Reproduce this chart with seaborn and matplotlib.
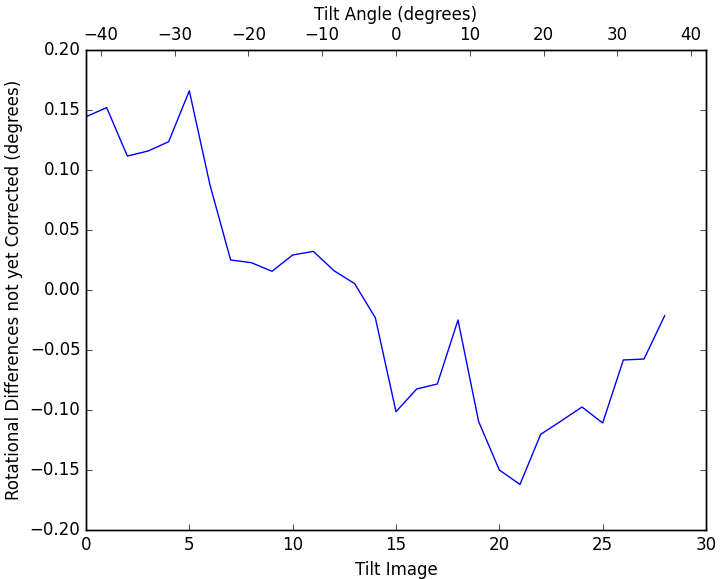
import numpy as np
import pandas as pd
import matplotlib
matplotlib.use("Agg")
import matplotlib.pyplot as plt
import seaborn as sns

# rotational differences per tilt image
tilt_image = list(range(29))
rot_diff = [0.1444, 0.1520, 0.1117, 0.1158, 0.1236, 0.1660, 0.0875, 0.0250,
            0.0228, 0.0156, 0.0292, 0.0322, 0.0161, 0.0053, -0.0231, -0.1014,
            -0.0825, -0.0783, -0.0250, -0.1097, -0.1500, -0.1620, -0.1203,
            -0.1090, -0.0975, -0.1108, -0.0583, -0.0575, -0.0214]

# top axis range in degrees
angle_lim = (-42, 42)

df = pd.DataFrame({"image": tilt_image, "diff": rot_diff})

plt.style.use("classic")
fig = plt.figure(figsize=(7.25, 5.79), dpi=100, facecolor="white")
ax = fig.add_axes([0.1186, 0.0846, 0.8552, 0.829])

sns.lineplot(data=df, x="image", y="diff", ax=ax, color="b", linewidth=1)
ax.set_xlim(0, 30)
ax.set_ylim(-0.2, 0.2)
ax.set_yticks(np.arange(-0.2, 0.21, 0.05))
ax.set_xlabel("Tilt Image")
ax.set_ylabel("Rotational Differences not yet Corrected (degrees)")

ax2 = ax.twiny()
ax2.set_xlim(*angle_lim)
ax2.set_xticks(np.arange(-40, 41, 10))
ax2.set_xlabel("Tilt Angle (degrees)")

fig.savefig("out.png", dpi=100, facecolor="white")
